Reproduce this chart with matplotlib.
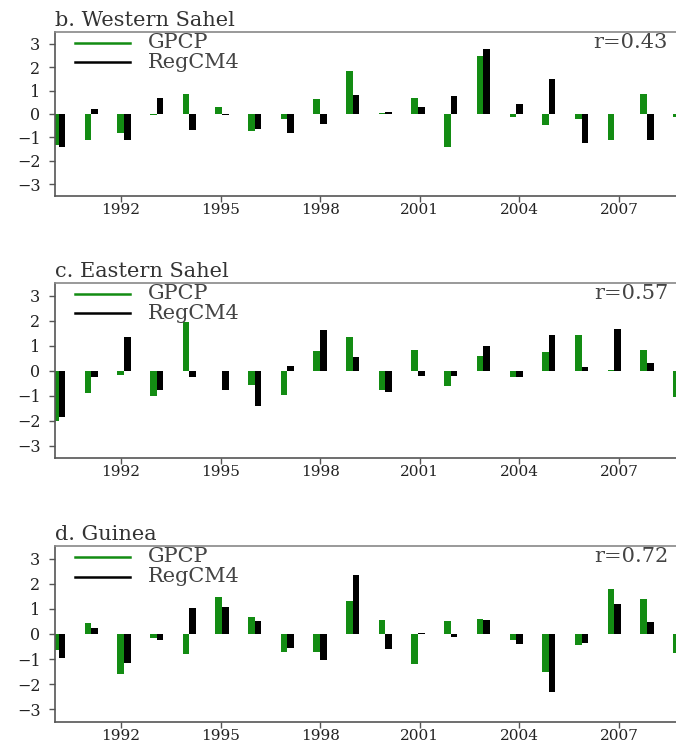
import numpy as np
import matplotlib
matplotlib.use("Agg")
import matplotlib.pyplot as plt
from matplotlib import transforms

# seasonal rainfall anomalies (standardised), 1990-2009
years = np.arange(1990, 2010)

wsahel_gpcp = [-1.33, -1.12, -0.83, -0.05, 0.84, 0.31, -0.73, -0.23, 0.64, 1.82,
               0.03, 0.67, -1.40, 2.49, -0.14, -0.47, -0.21, -1.12, 0.84, -0.14]
wsahel_regcm = [-1.40, 0.21, -1.12, 0.67, -0.69, -0.03, -0.66, -0.83, -0.43, 0.80,
                0.08, 0.31, 0.77, 2.79, 0.44, 1.50, -1.23, -0.02, -1.09, np.nan]

esahel_gpcp = [-2.03, -0.89, -0.18, -1.01, 1.95, -0.02, -0.58, -0.99, 0.80, 1.35,
               -0.78, 0.81, -0.62, 0.59, -0.27, 0.73, 1.41, 0.02, 0.84, -1.05]
esahel_regcm = [-1.84, -0.27, 1.35, -0.78, -0.24, -0.76, -1.43, 0.20, 1.62, 0.54,
                -0.84, -0.22, -0.22, 1.00, -0.27, 1.41, 0.14, 1.68, 0.32, np.nan]

guinea_gpcp = [-0.63, 0.45, -1.59, -0.17, -0.78, 1.48, 0.69, -0.70, -0.72, 1.32,
               0.55, -1.20, 0.53, 0.59, -0.24, -1.53, -0.43, 1.77, 1.41, -0.75]
guinea_regcm = [-0.94, 0.22, -1.16, -0.24, 1.04, 1.07, 0.51, -0.57, -1.03, 2.36,
                -0.59, 0.03, -0.11, 0.54, -0.41, -2.32, -0.34, 1.21, 0.49, np.nan]

titles = ["b. Western Sahel", "c. Eastern Sahel", "d. Guinea"]
r_values = [0.43, 0.57, 0.72]
series_labels = ["GPCP", "RegCM4"]
series_colors = ["#138c13", "#000000"]
xtick_years = [1992, 1995, 1998, 2001, 2004, 2007]
ytick_values = [-3, -2, -1, 0, 1, 2, 3]

panels = [(wsahel_gpcp, wsahel_regcm), (esahel_gpcp, esahel_regcm),
          (guinea_gpcp, guinea_regcm)]

# axes boxes in figure pixels: (top, bottom)
W, H = 676, 746
boxes = [(32, 196), (283, 458), (546, 722)]
left_px, right_px = 55, 676

txt_font = "DejaVu Serif"
txt_size = 15
spine_color = "#555555"

fig = plt.figure(figsize=(W / 100, H / 100), dpi=100)

# bar pairs are spaced slightly tighter than the year ticks
xpos = 1990.12 + 0.9846 * (years - 1990)
bw = 0.2

for k, (ttl, r, (obs, mod)) in enumerate(zip(titles, r_values, panels)):
    top, bot = boxes[k]
    ax = fig.add_axes([left_px / W, 1 - bot / H,
                       (right_px - left_px) / W, (bot - top) / H])

    ax.bar(xpos - bw / 2, obs, width=bw, color=series_colors[0], linewidth=0)
    ax.bar(xpos + bw / 2, mod, width=bw, color=series_colors[1], linewidth=0)

    ax.set_xlim(1990.01, 2008.72)
    ax.set_ylim(-3.5, 3.5)
    ax.set_xticks(xtick_years)
    ax.set_xticklabels([str(y) for y in xtick_years], family=txt_font)
    ax.set_yticks(ytick_values)
    ax.set_yticklabels([str(v).replace("-", "\u2212") for v in ytick_values],
                       family=txt_font)

    ax.spines["right"].set_visible(False)
    for s in ["left", "bottom", "top"]:
        ax.spines[s].set_color(spine_color)
        ax.spines[s].set_linewidth(1.2)
    ax.spines["top"].set_color("#888888")

    ax.tick_params(axis="y", direction="out", length=4.5, width=1.0,
                   color=spine_color, pad=6, labelsize=11.5, labelcolor="#222222")
    ax.tick_params(axis="x", direction="out", length=4.5, width=1.0,
                   color=spine_color, pad=0.5, labelsize=11, labelcolor="#222222")

    ax.set_title(ttl, loc="left", pad=4, fontsize=txt_size, family=txt_font,
                 color="#333333")

    # key: short line + label, stacked below the top-left corner
    for i, (lab, col) in enumerate(zip(series_labels, series_colors)):
        dy = -11 - 19.5 * i
        tr = transforms.offset_copy(ax.transAxes, fig=fig, x=0, y=dy, units="dots")
        ax.plot([20 / (right_px - left_px), 75 / (right_px - left_px)], [1, 1],
                transform=tr, color=col, lw=1.8, clip_on=False)
        ax.annotate(lab, xy=(0, 1), xycoords="axes fraction",
                    xytext=(93, dy), textcoords="offset pixels",
                    ha="left", va="center", fontsize=txt_size, family=txt_font,
                    color="#444444")

    ax.annotate(f"r={r:.2f}", xy=(1, 1), xycoords="axes fraction",
                xytext=(-8, -11), textcoords="offset pixels",
                ha="right", va="center", fontsize=txt_size, family=txt_font,
                color="#444444")

fig.savefig("out.png", dpi=100)
